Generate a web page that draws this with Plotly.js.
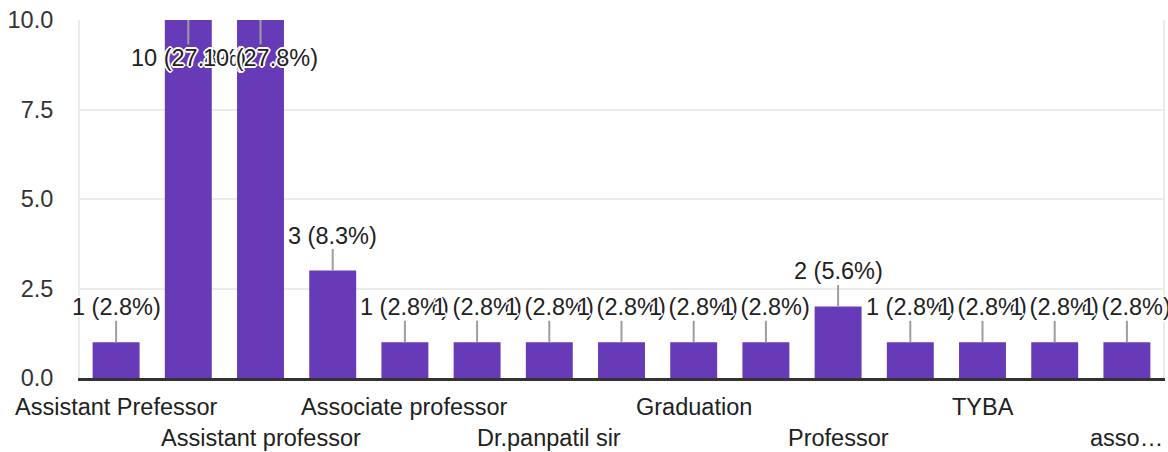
<!DOCTYPE html>
<html>
<head>
<meta charset="utf-8">
<script src="https://cdn.plot.ly/plotly-3.0.1.min.js"></script>
<style>html,body{margin:0;padding:0;background:#fff;}#chart{width:1168px;height:452px;}</style>
</head>
<body>
<div id="chart"></div>
<script>
// Categories (labels at odd positions are not shown in the reference; guessed names)
const categories = [
  "Assistant Prefessor", "Assistant Professor", "Assistant professor", "Associate Professor",
  "Associate professor", "Associate prof.", "Dr.panpatil sir", "Graduate",
  "Graduation", "Post graduation", "Professor", "Student",
  "TYBA", "Teacher", "asso…"
];
const counts = [1, 10, 10, 3, 1, 1, 1, 1, 1, 1, 2, 1, 1, 1, 1];
// tick labels drawn (every other category, alternating rows)
const tickCats = ["Assistant Prefessor", "Assistant professor", "Associate professor", "Dr.panpatil sir",
                  "Graduation", "Professor", "TYBA", "asso…"];
const tickLabels = ["Assistant Prefessor", "Assistant professor", "Associate professor", "Dr.panpatil sir",
                    "Graduation", "Professor", "TYBA", "asso…"];
const yTicks = [0, 2.5, 5, 7.5, 10];

const total = counts.reduce((a, b) => a + b, 0);
const FONT = "'Liberation Sans', Arial, sans-serif";
const FS = 23.5;
const plotH = 358;
const yMax = 10;

const halo = "1px 1px 0 #fff, -1px -1px 0 #fff, 1px -1px 0 #fff, -1px 1px 0 #fff, 2px 0 0 #fff, -2px 0 0 #fff, 0 2px 0 #fff, 0 -2px 0 #fff";

const annotations = [];
categories.forEach((c, i) => {
  const v = counts[i];
  const pct = (100 * v / total).toFixed(1);
  const inside = v >= yMax;
  annotations.push({
    x: c, y: Math.min(v, yMax), xref: "x", yref: "y",
    text: v + " (" + pct + "%)",
    showarrow: true, arrowhead: 0, arrowwidth: 2, arrowcolor: "#9e9e9e",
    ax: 0, ay: inside ? 38 : -35,
    font: {family: FONT, size: FS, color: "#212121", shadow: halo},
    borderpad: 0
  });
});
tickCats.forEach((c, k) => {
  annotations.push({
    x: c, xref: "x", yref: "paper",
    y: (k % 2 === 0) ? -29 / plotH : -60 / plotH,
    yanchor: "middle", xanchor: "center",
    text: tickLabels[k], showarrow: false,
    font: {family: FONT, size: FS, color: "#212121"}
  });
});

const trace = {
  type: "bar",
  x: categories,
  y: counts,
  marker: {color: "#673ab7"},
  hoverinfo: "skip"
};

const layout = {
  width: 1168, height: 452,
  margin: {l: 80, r: 5, t: 20, b: 74},
  paper_bgcolor: "#fff", plot_bgcolor: "#fff",
  bargap: 0.35,
  showlegend: false,
  font: {family: FONT, size: FS, color: "#333"},
  xaxis: {
    type: "category", categoryorder: "array", categoryarray: categories,
    range: [-0.5, categories.length - 0.5],
    showticklabels: false, ticks: "",
    showline: true, linecolor: "#333", linewidth: 3,
    showgrid: false, zeroline: false, fixedrange: true
  },
  yaxis: {
    range: [0, yMax], tickvals: yTicks, tickformat: ".1f",
    ticks: "", ticklabelstandoff: 20,
    tickfont: {family: FONT, size: FS, color: "#333"},
    showgrid: true, gridcolor: "#ebebeb", gridwidth: 2,
    showline: true, linecolor: "#ebebeb", linewidth: 2, mirror: true,
    zeroline: false, fixedrange: true
  },
  annotations: annotations
};

Plotly.newPlot("chart", [trace], layout, {displayModeBar: false, staticPlot: true});
</script>
</body>
</html>
